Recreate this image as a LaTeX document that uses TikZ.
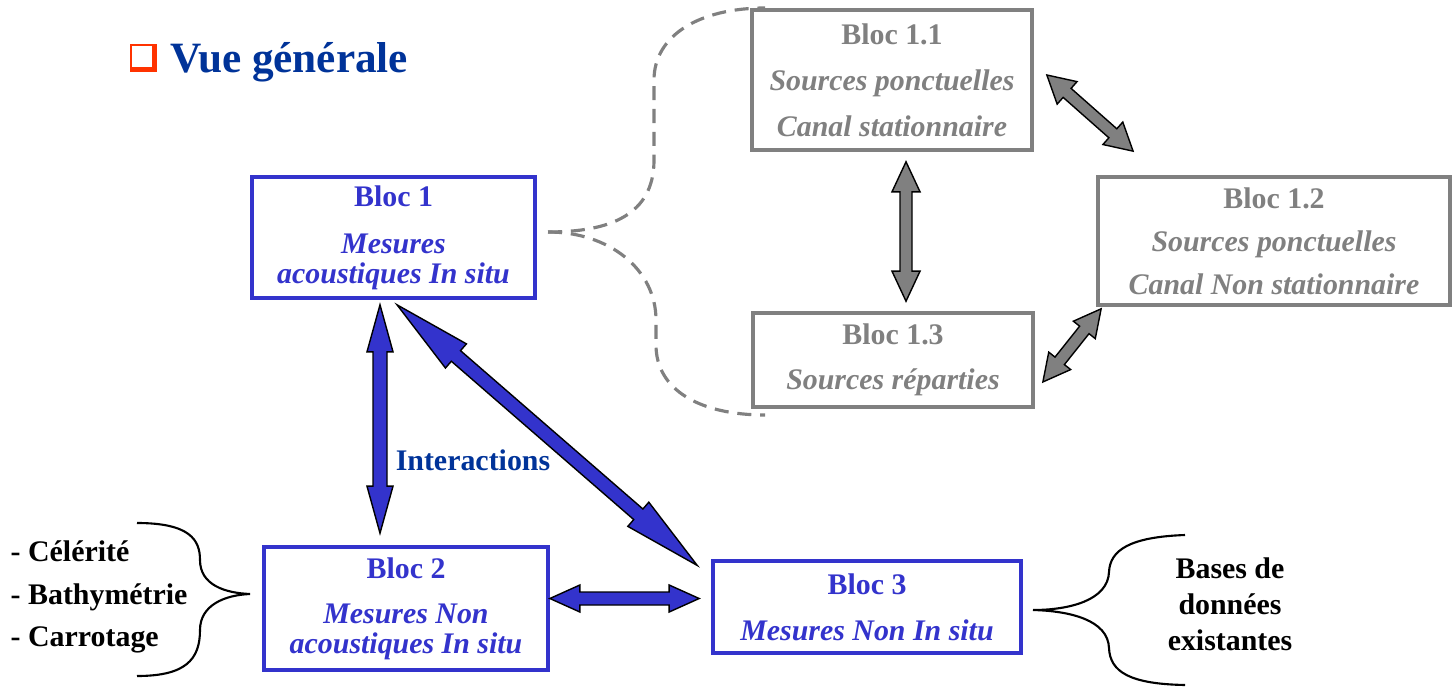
\documentclass[tikz,border=0pt]{standalone}
\usepackage{fontspec}
\setmainfont{Liberation Serif}
\usetikzlibrary{calc,positioning}
\definecolor{bleu}{RGB}{51,51,204}
\definecolor{titre}{RGB}{0,51,153}
\definecolor{gris}{RGB}{128,128,128}
\definecolor{rougepuce}{RGB}{255,51,0}

% fleche pleine a deux pointes : style, depart, arrivee, demi-fut, demi-tete, longueur tete
\newcommand{\flechebloc}[6]{%
  \path[#1] let \p1=(#2), \p2=(#3), \n1={atan2(\y2-\y1,\x2-\x1)}, \n2={veclen(\x2-\x1,\y2-\y1)} in
    [shift={(\p1)}, rotate=\n1] (0pt,0pt) -- (#6,#5) -- (#6,#4) -- ({\n2-#6},#4) -- ({\n2-#6},#5)
    -- (\n2,0pt) -- ({\n2-#6},-#5) -- ({\n2-#6},-#4) -- (#6,-#4) -- (#6,-#5) -- cycle;}

\begin{document}
\begin{tikzpicture}[x=0.01cm,y=-0.01cm]
  \tikzstyle{bloc}=[rectangle, draw, line width=1pt, font=\fontsize{8.5}{8.5}\selectfont\bfseries, align=center, inner sep=0pt]
  \tikzstyle{blocbleu}=[bloc, draw=bleu, text=bleu]
  \tikzstyle{blocgris}=[bloc, draw=gris, text=gris]
  \tikzstyle{fbleu}=[draw=black, line width=0.4pt, fill=bleu]
  \tikzstyle{fgris}=[draw=black, line width=0.4pt, fill=gris]
  \tikzstyle{accolade}=[draw=black, line width=0.6pt]
  \tikzstyle{tirets}=[gris, line width=0.9pt, dash pattern=on 4pt off 2.5pt]
  \tikzstyle{texte}=[font=\fontsize{8.5}{12.2}\selectfont\bfseries, inner sep=0pt]
  \useasboundingbox (0,0) rectangle (1452,688);

  % titre
  \node[rectangle, fill=rougepuce, minimum width=0.27cm, minimum height=0.28cm, inner sep=0pt] (puce) at (143.5,58) {};
  \fill[white] ($(puce.north west)+(3,3)$) rectangle ($(puce.south east)+(-6,-6)$);
  \node[anchor=base west, text=titre, font=\fontsize{12.3}{12.3}\selectfont\bfseries, inner sep=0pt] (titre) at (170,73) {Vue générale};

  % blocs principaux
  \node[blocbleu, minimum width=2.83cm, minimum height=1.21cm] (b1) at (393.5,237.5) {Bloc 1\\[4.8pt]\textit{Mesures}\\\textit{acoustiques In situ}};
  \node[blocbleu, minimum width=2.84cm, minimum height=1.23cm] (b2) at (406,608.5) {Bloc 2\\[4.3pt]\textit{Mesures Non}\\\textit{acoustiques In situ}};
  \node[blocbleu, minimum width=3.08cm, minimum height=0.92cm] (b3) at (867,607) {Bloc 3\\[4.6pt]\textit{Mesures Non In situ}};

  % sous-blocs du bloc 1
  \node[blocgris, minimum width=2.80cm, minimum height=1.40cm] (b11) at (892,80) {Bloc 1.1\\[4.6pt]\textit{Sources ponctuelles}\\[4.6pt]\textit{Canal stationnaire}};
  \node[blocgris, minimum width=3.52cm, minimum height=1.28cm] (b12) at (1274,241) {Bloc 1.2\\[3.7pt]\textit{Sources ponctuelles}\\[3.7pt]\textit{Canal Non stationnaire}};
  \node[blocgris, minimum width=2.80cm, minimum height=0.94cm] (b13) at (893,360) {Bloc 1.3\\[4.3pt]\textit{Sources réparties}};

  % textes libres
  \node[texte, text=titre] (inter) at (473,460) {Interactions};
  \node[texte, anchor=west, align=left] (liste) at (10,597) {- Célérité\\- Bathymétrie\\- Carrotage};
  \node[texte, align=center, font=\fontsize{8.5}{10.2}\selectfont\bfseries] (bases) at (1230,604) {Bases de\\données\\existantes};

  % accolades
  \draw[accolade] (137,523) .. controls (190,523) and (200,540) .. (200,560)
    .. controls (200,585) and (225,593) .. (250,594)
    .. controls (225,595) and (200,605) .. (200,630)
    .. controls (200,660) and (185,676) .. (137,676);
  \draw[accolade] (1185,535) .. controls (1130,537) and (1110,550) .. (1109,572)
    .. controls (1108,600) and (1070,610) .. (1033,610)
    .. controls (1070,611) and (1108,620) .. (1109,648)
    .. controls (1110,672) and (1130,684) .. (1185,685);

  % decomposition du bloc 1
  \draw[tirets] (548,232) .. controls (610,232) and (654,215) .. (654,160)
    -- (654,80) .. controls (654,35) and (700,8) .. (765,8);
  \draw[tirets] (548,232) .. controls (610,232) and (656,270) .. (656,320)
    -- (656,345) .. controls (656,390) and (700,415) .. (765,415);

  % interactions
  \flechebloc{fbleu}{$(b1.south)+(-13.5,5)$}{$(b2.north)+(-26,-12)$}{0.07cm}{0.13cm}{0.47cm}
  \flechebloc{fbleu}{$(b1.south)+(3.5,5)$}{$(b3.north west)+(-13,7)$}{0.07cm}{0.16cm}{0.78cm}
  \flechebloc{fbleu}{$(b2.east)+(0,-10)$}{$(b3.west)+(-12,-8.5)$}{0.065cm}{0.135cm}{0.30cm}
  \flechebloc{fgris}{$(b11.south)+(14,10)$}{$(b13.north)+(13,-10)$}{0.06cm}{0.14cm}{0.30cm}
  \flechebloc{fgris}{$(b11.east)+(13,-5)$}{$(b12.north west)+(37,-24)$}{0.06cm}{0.15cm}{0.27cm}
  \flechebloc{fgris}{$(b12.south west)+(5,2)$}{$(b13.east)+(8,22)$}{0.06cm}{0.14cm}{0.27cm}
\end{tikzpicture}
\end{document}
